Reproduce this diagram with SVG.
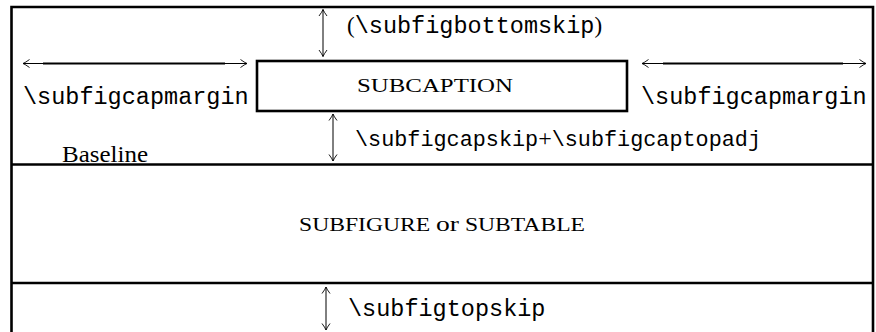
<svg xmlns="http://www.w3.org/2000/svg" width="876" height="332" viewBox="0 0 876 332">
<style>
.frame{fill:none;stroke:#000;stroke-width:2.6}
.thin{fill:none;stroke:#000;stroke-width:1}
.rule{fill:none;stroke:#000;stroke-width:2.2}
.mono{font-family:"Liberation Mono","DejaVu Sans Mono",monospace;font-size:23.5px;fill:#000}
.mono.sm{font-size:21.8px}
.serif{font-family:"Liberation Serif","DejaVu Serif",serif;fill:#000}
</style>
<defs>
<marker id="ah" viewBox="-8 -5 9 10" refX="0" refY="0" markerWidth="9" markerHeight="10" markerUnits="userSpaceOnUse" orient="auto-start-reverse">
<path d="M-6.5,-4 Q-2.5,-1 0,0 Q-2.5,1 -6.5,4" fill="none" stroke="#000" stroke-width="0.9"/>
</marker>
</defs>
<g id="frame">
<path class="frame" d="M11.5,332 V7 H873 V332"/>
<line class="frame" x1="11.5" y1="164.5" x2="873" y2="164.5"/>
<line class="frame" x1="11.5" y1="283" x2="873" y2="283"/>
</g>
<g id="subcaption">
<rect class="frame" x="257" y="61" width="370" height="50"/>
<text class="serif" x="435" y="92" font-size="19.5" text-anchor="middle" textLength="156" lengthAdjust="spacingAndGlyphs">SUBCAPTION</text>
</g>
<g id="subfigure">
<text class="serif" x="442" y="231" font-size="18" text-anchor="middle" textLength="286" lengthAdjust="spacingAndGlyphs">SUBFIGURE <tspan font-size="21">or</tspan> SUBTABLE</text>
</g>
<g id="baseline-label">
<text class="serif" x="62" y="162" font-size="23" textLength="86" lengthAdjust="spacingAndGlyphs">Baseline</text>
</g>
<g id="bottomskip-label">
<text x="347" y="33"><tspan class="serif" font-size="23">(</tspan><tspan class="mono">\subfigbottomskip</tspan><tspan class="serif" font-size="23">)</tspan></text>
</g>
<g id="capmargin-left">
<text class="mono" x="23" y="104">\subfigcapmargin</text>
</g>
<g id="capmargin-right">
<text class="mono" x="641" y="104">\subfigcapmargin</text>
</g>
<g id="capskip-label">
<text x="355" y="146"><tspan class="mono sm">\subfigcapskip</tspan><tspan class="serif" font-size="24">+</tspan><tspan class="mono sm">\subfigcaptopadj</tspan></text>
</g>
<g id="topskip-label">
<text class="mono" x="348" y="316">\subfigtopskip</text>
</g>
<g id="connectors">
<line class="thin" x1="323" y1="9.5" x2="323" y2="56.5" marker-start="url(#ah)" marker-end="url(#ah)"/>
<line class="thin" x1="333" y1="114" x2="333" y2="161" marker-start="url(#ah)" marker-end="url(#ah)"/>
<line class="thin" x1="326" y1="287" x2="326" y2="330" marker-start="url(#ah)" marker-end="url(#ah)"/>
<line class="thin" x1="23" y1="63.5" x2="247" y2="63.5" marker-start="url(#ah)" marker-end="url(#ah)"/>
<line class="rule" x1="43" y1="63.5" x2="225" y2="63.5"/>
<line class="thin" x1="642" y1="63.5" x2="866" y2="63.5" marker-start="url(#ah)" marker-end="url(#ah)"/>
<line class="rule" x1="663" y1="63.5" x2="843" y2="63.5"/>
</g>
</svg>
